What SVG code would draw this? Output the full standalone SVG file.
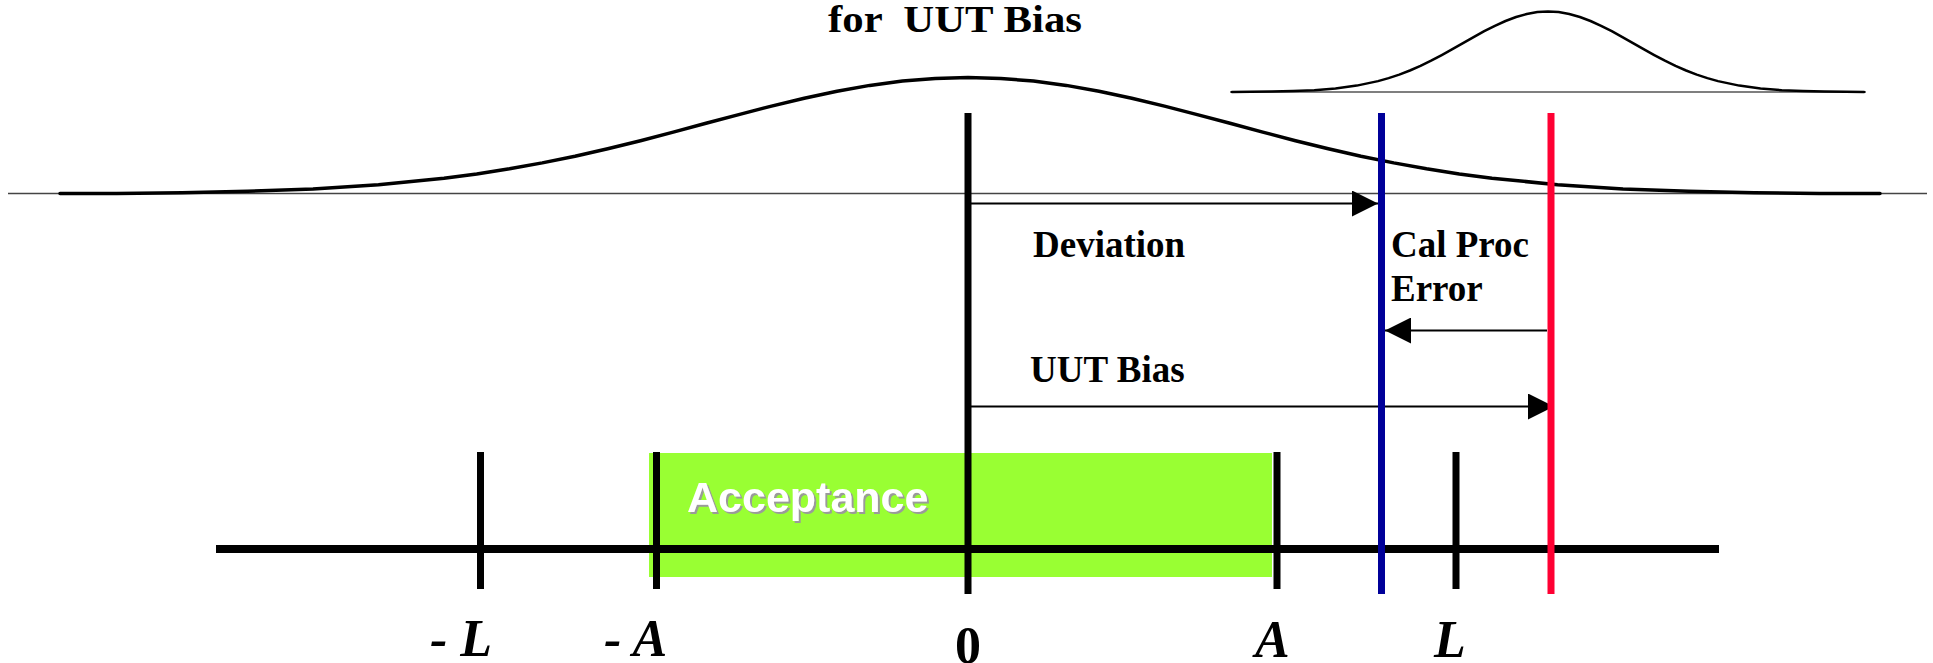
<svg xmlns="http://www.w3.org/2000/svg" width="1933" height="663" viewBox="0 0 1933 663">
<style>
.serif{font-family:"Liberation Serif","Times New Roman",serif;font-weight:bold;fill:#000}
.lbl{font-size:37px}
.axis{font-size:52px;font-style:italic}
.curve{fill:none;stroke:#000;stroke-linejoin:round;stroke-linecap:round}
.tick{stroke:#000;stroke-width:7}
.arrow{stroke:#000;stroke-width:2;marker-end:url(#ah)}
</style>
<defs>
<marker id="ah" markerUnits="userSpaceOnUse" markerWidth="26" markerHeight="26" refX="26" refY="13" orient="auto">
<path d="M0,0 L26,13 L0,26 Z" fill="#000"/>
</marker>
<filter id="sh" x="-5%" y="-20%" width="110%" height="140%">
<feDropShadow dx="2" dy="2" stdDeviation="0.3" flood-color="#9a9a9a"/>
</filter>
</defs>
<rect width="1933" height="663" fill="#fff"/>

<g id="title">
<text class="serif" x="828" y="32" font-size="38" textLength="254" lengthAdjust="spacingAndGlyphs" xml:space="preserve">for  UUT Bias</text>
</g>

<g id="uut-distribution">
<line x1="8" y1="193.5" x2="1927" y2="193.5" stroke="#444" stroke-width="1.5"/>
<polyline class="curve" stroke-width="3.5" points="60,193.6 116.5,193.4 182,192.7 247.5,191.3 313,188.9 378.5,184.7 444,178.2 476.75,173.9 509.5,168.8 542.25,162.9 575,156.2 607.75,148.7 640.5,140.7 673.25,132.1 706,123.3 738.75,114.6 771.5,106.1 804.25,98.2 837,91.2 869.75,85.4 902.5,81.1 935.25,78.4 968,77.5 1000.75,78.4 1033.5,81.1 1066.25,85.4 1099,91.2 1131.75,98.2 1164.5,106.1 1197.25,114.6 1230,123.3 1262.75,132.1 1295.5,140.7 1328.25,148.7 1361,156.2 1393.75,162.9 1426.5,168.8 1459.25,173.9 1492,178.2 1557.5,184.7 1623,188.9 1688.5,191.3 1754,192.7 1819.5,193.4 1880,193.6"/>
</g>

<g id="cal-distribution">
<line x1="1230" y1="92" x2="1866" y2="92" stroke="#555" stroke-width="1.5"/>
<polyline class="curve" stroke-width="2.5" points="1232,92 1250.5,91.8 1271.75,91.6 1293,91.1 1314.25,90.2 1335.5,88.5 1356.75,85.6 1378,81.1 1388.6,78.1 1399.25,74.6 1409.9,70.5 1420.5,65.9 1431.1,60.7 1441.75,55.1 1452.4,49.2 1463,43.2 1473.6,37.1 1484.25,31.2 1494.9,25.8 1505.5,21 1516.1,17 1526.75,14 1537.4,12.1 1548,11.5 1558.6,12.1 1569.25,14 1579.9,17 1590.5,21 1601.1,25.8 1611.75,31.2 1622.4,37.1 1633,43.2 1643.6,49.2 1654.25,55.1 1664.9,60.7 1675.5,65.9 1686.1,70.5 1696.75,74.6 1707.4,78.1 1718,81.1 1739.25,85.6 1760.5,88.5 1781.75,90.2 1803,91.1 1824.25,91.6 1845.5,91.8 1864,92"/>
</g>

<g id="acceptance">
<rect x="649" y="453" width="623" height="124" fill="#99ff33"/>
<text x="687" y="512" font-family="Liberation Sans, Arial, sans-serif" font-weight="bold" font-size="43" fill="#fff" filter="url(#sh)">Acceptance</text>
</g>

<g id="number-line">
<line x1="216" y1="549" x2="1719" y2="549" stroke="#000" stroke-width="8"/>
</g>

<g id="ticks">
<line class="tick" x1="480.5" y1="452" x2="480.5" y2="589"/>
<line class="tick" x1="656.5" y1="452" x2="656.5" y2="589"/>
<line class="tick" x1="1277" y1="452" x2="1277" y2="589"/>
<line class="tick" x1="1456" y1="452" x2="1456" y2="589"/>
</g>

<g id="zero-line">
<line x1="968" y1="113" x2="968" y2="594" stroke="#000" stroke-width="7"/>
</g>

<g id="connectors">
<line class="arrow" x1="971" y1="203.5" x2="1378" y2="203.5"/>
<line class="arrow" x1="1547" y1="330.5" x2="1385" y2="330.5"/>
<line class="arrow" x1="971" y1="406.5" x2="1554" y2="406.5"/>
</g>

<g id="measured-line">
<line x1="1381.5" y1="113" x2="1381.5" y2="594" stroke="#000099" stroke-width="7"/>
</g>

<g id="true-line">
<line x1="1551" y1="113" x2="1551" y2="594" stroke="#ff0033" stroke-width="7"/>
</g>

<g id="labels">
<text class="serif lbl" x="1033" y="257">Deviation</text>
<text class="serif lbl" x="1391" y="257">Cal Proc</text>
<text class="serif lbl" x="1391" y="301">Error</text>
<text class="serif lbl" x="1030" y="382">UUT Bias</text>
</g>

<g id="axis-labels">
<text class="serif axis" x="430" y="656" xml:space="preserve">- L</text>
<text class="serif axis" x="604" y="656" xml:space="preserve">- A</text>
<text class="serif" x="968" y="663" font-size="52" text-anchor="middle">0</text>
<text class="serif axis" x="1255" y="657">A</text>
<text class="serif axis" x="1434" y="657">L</text>
</g>
</svg>
